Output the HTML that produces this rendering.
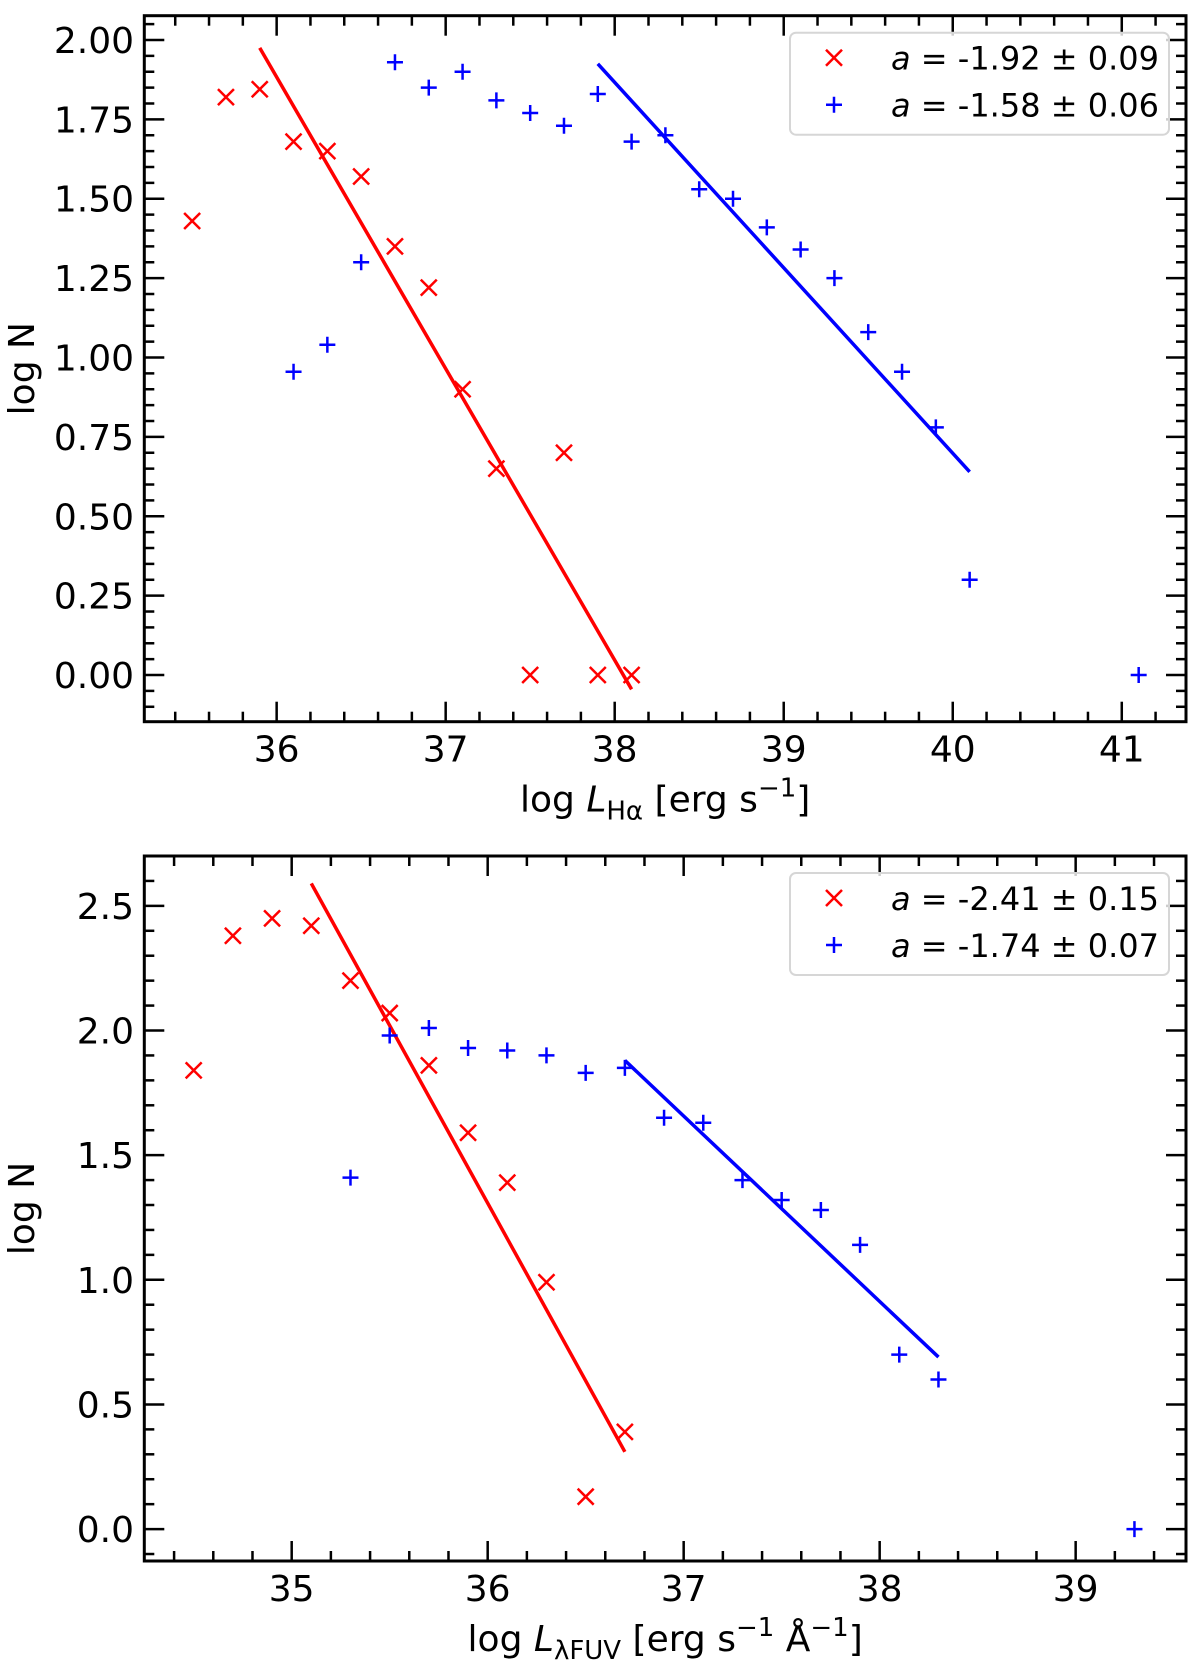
<!DOCTYPE html>
<html><head><meta charset="utf-8"><style>
html,body{margin:0;padding:0;background:#fff;}
svg{display:block;font-family:"DejaVu Sans","Liberation Sans",sans-serif;}
</style></head><body>
<svg id="fig" width="1200" height="1676" viewBox="0 0 1200 1676" xmlns="http://www.w3.org/2000/svg"></svg>
<script>
// ---- Top panel data (H-alpha) ----
const topRedX = [35.5,35.7,35.9,36.1,36.3,36.5,36.7,36.9,37.1,37.3,37.5,37.7,37.9,38.1];
const topRedY = [1.43,1.82,1.845,1.68,1.65,1.57,1.35,1.22,0.90,0.65,0,0.70,0,0];
const topBlueX = [36.1,36.3,36.5,36.7,36.9,37.1,37.3,37.5,37.7,37.9,38.1,38.3,38.5,38.7,38.9,39.1,39.3,39.5,39.7,39.9,40.1,41.1];
const topBlueY = [0.955,1.04,1.30,1.93,1.85,1.90,1.81,1.77,1.73,1.83,1.68,1.70,1.53,1.50,1.41,1.34,1.25,1.08,0.955,0.78,0.30,0];
const topRedFitX = [35.9,38.1];
const topRedFitY = [1.975,-0.045];
const topBlueFitX = [37.9,40.1];
const topBlueFitY = [1.925,0.64];
const topXTicks = [36,37,38,39,40,41];
const topYTicks = [0,0.25,0.5,0.75,1.0,1.25,1.5,1.75,2.0];
const topYTickLabels = ["0.00","0.25","0.50","0.75","1.00","1.25","1.50","1.75","2.00"];
const topLegend = ["= -1.92 ± 0.09","= -1.58 ± 0.06"];
// ---- Bottom panel data (FUV) ----
const botRedX = [34.5,34.7,34.9,35.1,35.3,35.5,35.7,35.9,36.1,36.3,36.5,36.7];
const botRedY = [1.84,2.38,2.45,2.42,2.20,2.07,1.86,1.59,1.39,0.99,0.13,0.39];
const botBlueX = [35.3,35.5,35.7,35.9,36.1,36.3,36.5,36.7,36.9,37.1,37.3,37.5,37.7,37.9,38.1,38.3,39.3];
const botBlueY = [1.41,1.98,2.01,1.93,1.92,1.90,1.83,1.85,1.65,1.63,1.40,1.32,1.28,1.14,0.70,0.60,0];
const botRedFitX = [35.1,36.7];
const botRedFitY = [2.59,0.31];
const botBlueFitX = [36.7,38.3];
const botBlueFitY = [1.88,0.69];
const botXTicks = [35,36,37,38,39];
const botYTicks = [0,0.5,1.0,1.5,2.0,2.5];
const botYTickLabels = ["0.0","0.5","1.0","1.5","2.0","2.5"];
const botLegend = ["= -2.41 ± 0.15","= -1.74 ± 0.07"];

const NS="http://www.w3.org/2000/svg";
const svg=document.getElementById('fig');
function mk(tag,attrs,parent){const e=document.createElementNS(NS,tag);for(const k in attrs)e.setAttribute(k,attrs[k]);(parent||svg).appendChild(e);return e;}

function panel(cfg){
  const g=mk('g',{});
  
  
  const L=144.3,R=1186,T=cfg.top,B=cfg.bottom;
  const sx=v=>L+(v-cfg.xmin)/(cfg.xmax-cfg.xmin)*(R-L);
  const sy=v=>B-(v-cfg.ymin)/(cfg.ymax-cfg.ymin)*(B-T);
  const tg=mk('g',{stroke:'#000','stroke-width':2.5},g);
  
  
  for(let v=Math.ceil(cfg.xmin/0.2)*0.2; v<=cfg.xmax; v+=0.2){
    const x=sx(v); const major=Math.abs(v-Math.round(v))<1e-6; const len=major?20:10;
    mk('line',{x1:x,x2:x,y1:B,y2:B-len},tg); mk('line',{x1:x,x2:x,y1:T,y2:T+len},tg);
  }
  const ystep=cfg.yminor;
  for(let i=Math.ceil(cfg.ymin/ystep); i*ystep<=cfg.ymax; i++){
    const v=i*ystep; const y=sy(v); const major=cfg.yTicks.some(t=>Math.abs(t-v)<1e-6); const len=major?20:10;
    mk('line',{x1:L,x2:L+len,y1:y,y2:y},tg); mk('line',{x1:R,x2:R-len,y1:y,y2:y},tg);
  }
  cfg.xTicks.forEach(v=>{
    const t=mk('text',{x:sx(v),y:B+40,'font-size':36,'text-anchor':'middle'},g); t.textContent=v;
    
    
  });
  cfg.yTicks.forEach((v,i)=>{
    const t=mk('text',{x:134,y:sy(v)+13,'font-size':36,'text-anchor':'end'},g); t.textContent=cfg.yLabels[i];
    
    
  });
  const rl=mk('line',{x1:sx(cfg.rfx[0]),y1:sy(cfg.rfy[0]),x2:sx(cfg.rfx[1]),y2:sy(cfg.rfy[1]),stroke:'#ff0000','stroke-width':3.5},g);
  
  
  const bl=mk('line',{x1:sx(cfg.bfx[0]),y1:sy(cfg.bfy[0]),x2:sx(cfg.bfx[1]),y2:sy(cfg.bfy[1]),stroke:'#0000ff','stroke-width':3.5},g);
  
  
  const s=8;
  cfg.rx.forEach((v,i)=>{
    const x=sx(v),y=sy(cfg.ry[i]);
    const p=mk('path',{d:`M${x-s},${y-s}L${x+s},${y+s}M${x-s},${y+s}L${x+s},${y-s}`,stroke:'#ff0000','stroke-width':2.5,fill:'none'},g);
    
    
  });
  cfg.bx.forEach((v,i)=>{
    const x=sx(v),y=sy(cfg.by[i]);
    const p=mk('path',{d:`M${x-s},${y}L${x+s},${y}M${x},${y-s}L${x},${y+s}`,stroke:'#0000ff','stroke-width':2.5,fill:'none'},g);
    
    
  });
  const fr=mk('rect',{x:L,y:T,width:R-L,height:B-T,fill:'none',stroke:'#000','stroke-width':3},g);
  
  
  const lg=mk('g',{},g);
  
  
  const lt=T+17;
  mk('rect',{x:790,y:lt,width:379,height:102,rx:6,fill:'#fff','fill-opacity':0.8,stroke:'#d6d6d6','stroke-width':2},lg);
  const r1=lt+25,r2=lt+72;
  mk('path',{d:`M${834-s},${r1-s}L${834+s},${r1+s}M${834-s},${r1+s}L${834+s},${r1-s}`,stroke:'#ff0000','stroke-width':2.5},lg);
  mk('path',{d:`M${834-s},${r2}L${834+s},${r2}M834,${r2-s}L834,${r2+s}`,stroke:'#0000ff','stroke-width':2.5},lg);
  [r1,r2].forEach((ry,i)=>{
    const t=mk('text',{x:891,y:ry+12,'font-size':32},lg);
    
    
    const a=mk('tspan',{'font-style':'italic'},t); a.textContent='a';
    const b=mk('tspan',{},t); b.textContent=' '+cfg.legend[i];
  });
  const yl=mk('text',{x:0,y:0,'font-size':36,'text-anchor':'middle',transform:`translate(34,${(T+B)/2}) rotate(-90)`},g);
  yl.textContent='log N';
  
  
  const xl=mk('text',{x:(L+R)/2,y:B+90,'font-size':36,'text-anchor':'middle'},g);
  
  
  xl.innerHTML=cfg.xlabel;
}

panel({name:'halpha-panel',top:15.7,bottom:721.7,xmin:35.217,xmax:41.38,ymin:-0.147,ymax:2.0765,yminor:0.05,
  xTicks:topXTicks,yTicks:topYTicks,yLabels:topYTickLabels,rx:topRedX,ry:topRedY,bx:topBlueX,by:topBlueY,
  rfx:topRedFitX,rfy:topRedFitY,bfx:topBlueFitX,bfy:topBlueFitY,legend:topLegend,
  xlabel:'log <tspan font-style="italic">L</tspan><tspan font-size="26" dy="8">Hα</tspan><tspan dy="-8"> [erg s</tspan><tspan font-size="26" dy="-15">−1</tspan><tspan dy="15">]</tspan>'});
panel({name:'fuv-panel',top:856,bottom:1561,xmin:34.248,xmax:39.563,ymin:-0.128,ymax:2.70,yminor:0.1,
  xTicks:botXTicks,yTicks:botYTicks,yLabels:botYTickLabels,rx:botRedX,ry:botRedY,bx:botBlueX,by:botBlueY,
  rfx:botRedFitX,rfy:botRedFitY,bfx:botBlueFitX,bfy:botBlueFitY,legend:botLegend,
  xlabel:'log <tspan font-style="italic">L</tspan><tspan font-size="26" dy="8">λFUV</tspan><tspan dy="-8"> [erg s</tspan><tspan font-size="26" dy="-15">−1</tspan><tspan dy="15"> Å</tspan><tspan font-size="26" dy="-15">−1</tspan><tspan dy="15">]</tspan>'});
</script>
</body></html>
